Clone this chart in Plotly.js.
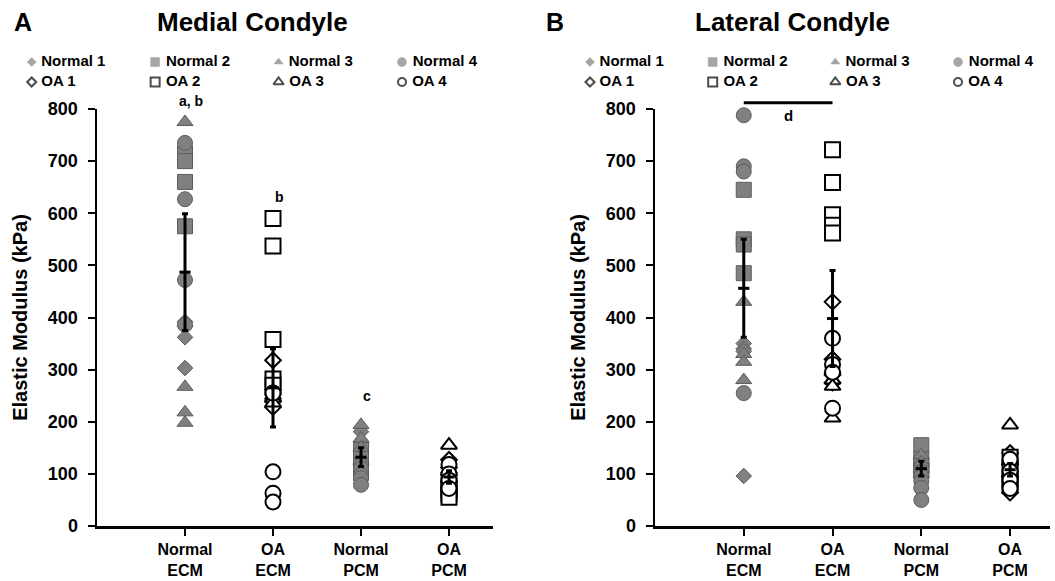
<!DOCTYPE html>
<html><head><meta charset="utf-8">
<script src="https://cdn.plot.ly/plotly-3.0.1.min.js"></script>
<style>body{margin:0;background:#fff}#chart{width:1055px;height:581px}</style>
</head><body><div id="chart"></div>
<script>
// ---------- data ----------
const categories = ['Normal<br>ECM', 'OA<br>ECM', 'Normal<br>PCM', 'OA<br>PCM'];
const catPos = [1, 2, 3, 4];
const groupNames = ['Normal 1', 'Normal 2', 'Normal 3', 'Normal 4', 'OA 1', 'OA 2', 'OA 3', 'OA 4'];
const groupShapes = ['diamond', 'square', 'triangle-up', 'circle', 'diamond', 'square', 'triangle-up', 'circle'];

// Medial condyle (kPa)
const medECM_N1 = [392, 383, 362, 303];
const medECM_N2 = [715, 700, 660, 575];
const medECM_N3 = [775, 267, 218, 198];
const medECM_N4 = [735, 627, 472, 386];
const medECM_OA1 = [318, 262, 240, 228];
const medECM_OA2 = [590, 537, 358, 282, 270];
const medECM_OA3 = [258, 250, 244, 236];
const medECM_OA4 = [255, 104, 63, 46];
const medPCM_N1 = [181, 160, 138, 120];
const medPCM_N2 = [146, 130, 115, 102];
const medPCM_N3 = [194, 168, 150, 125];
const medPCM_N4 = [110, 98, 92, 79];
const medPCM_OA1 = [127, 112, 98, 85];
const medPCM_OA2 = [78, 70, 62, 55];
const medPCM_OA3 = [155, 108, 92, 80];
const medPCM_OA4 = [118, 100, 88, 72];
const medMean = [487, 265, 132, 94];
const medErr = [112, 75, 18, 12];
const medLetters = ['a, b', 'b', 'c'];
const medLetterCat = [1, 2, 3];
const medLetterY = [815, 632, 249];

// Lateral condyle (kPa)
const latECM_N1 = [350, 340, 335, 96];
const latECM_N2 = [645, 550, 540, 485];
const latECM_N3 = [430, 330, 315, 280];
const latECM_N4 = [788, 690, 680, 255];
const latECM_OA1 = [430, 320, 290, 275];
const latECM_OA2 = [722, 659, 597, 577, 562];
const latECM_OA3 = [300, 280, 268, 207];
const latECM_OA4 = [360, 310, 295, 226];
const latPCM_N1 = [120, 112, 104, 98];
const latPCM_N2 = [155, 128, 115, 106];
const latPCM_N3 = [136, 122, 110, 100];
const latPCM_N4 = [95, 86, 73, 50];
const latPCM_OA1 = [140, 118, 95, 64];
const latPCM_OA2 = [132, 110, 92, 78];
const latPCM_OA3 = [194, 125, 100, 82];
const latPCM_OA4 = [128, 105, 88, 72];
const latMean = [456, 398, 110, 108];
const latErr = [94, 92, 14, 12];
const latSigFrom = 1, latSigTo = 2, latSigY = 812;
const latSigLetter = 'd', latSigLetterY = 788;

// ---------- styling ----------
const FONT = 'Liberation Sans, Arial, sans-serif';
const GRAY = '#808080', GRAY_EDGE = '#5c5c5c';
const Y_MAX = 800;
const bigSize = {'diamond': 12, 'square': 15, 'triangle-up': 14, 'circle': 15};
const legNormalSize = {'diamond': 7, 'square': 9, 'triangle-up': 8, 'circle': 9};
const legOASize = {'diamond': 7, 'square': 9, 'triangle-up': 9, 'circle': 8};

function groupTraces(ecmLists, pcmLists, xa, ya) {
  const traces = [];
  for (let g = 0; g < 8; g++) {
    const isOA = g >= 4;
    const ecm = ecmLists[g], pcm = pcmLists[g];
    const xE = isOA ? catPos[1] : catPos[0];
    const xP = isOA ? catPos[3] : catPos[2];
    const sym = groupShapes[g];
    traces.push({
      type: 'scatter', mode: 'markers', xaxis: xa, yaxis: ya, cliponaxis: false,
      name: groupNames[g], showlegend: false, hoverinfo: 'y',
      x: ecm.map(() => xE).concat(pcm.map(() => xP)),
      y: ecm.concat(pcm),
      marker: {
        symbol: sym, size: bigSize[sym],
        color: isOA ? '#ffffff' : GRAY,
        line: {color: isOA ? '#000000' : GRAY_EDGE, width: isOA ? 2 : 1}
      }
    });
  }
  return traces;
}

function meanTrace(means, errs, xa, ya) {
  return {
    type: 'scatter', mode: 'markers', xaxis: xa, yaxis: ya, cliponaxis: false,
    showlegend: false, x: catPos, y: means,
    marker: {symbol: 'line-ew', size: 8, line: {color: '#000', width: 3}},
    error_y: {type: 'data', array: errs, visible: true, color: '#000', thickness: 3, width: 3}
  };
}

function legendTrace(xa, ya) {
  return {
    type: 'scatter', mode: 'markers+text', xaxis: xa, yaxis: ya, cliponaxis: false,
    showlegend: false, hoverinfo: 'skip',
    x: [0, 1, 2, 3, 0, 1, 2, 3], y: [0, 0, 0, 0, 1, 1, 1, 1],
    text: groupNames.map(t => ' ' + t), textposition: 'middle right',
    textfont: {family: FONT, size: 15, color: '#000', weight: 'bold'},
    marker: {
      symbol: groupShapes,
      size: groupShapes.map((s, i) => i < 4 ? legNormalSize[s] : legOASize[s]),
      color: groupShapes.map((s, i) => i < 4 ? GRAY : '#ffffff'),
      line: {color: groupShapes.map((s, i) => i < 4 ? GRAY : '#000'), width: groupShapes.map((s, i) => i < 4 ? 0.5 : 2)}
    }
  };
}

const data = [].concat(
  groupTraces([medECM_N1, medECM_N2, medECM_N3, medECM_N4, medECM_OA1, medECM_OA2, medECM_OA3, medECM_OA4],
              [medPCM_N1, medPCM_N2, medPCM_N3, medPCM_N4, medPCM_OA1, medPCM_OA2, medPCM_OA3, medPCM_OA4], 'x', 'y'),
  [meanTrace(medMean, medErr, 'x', 'y')],
  groupTraces([latECM_N1, latECM_N2, latECM_N3, latECM_N4, latECM_OA1, latECM_OA2, latECM_OA3, latECM_OA4],
              [latPCM_N1, latPCM_N2, latPCM_N3, latPCM_N4, latPCM_OA1, latPCM_OA2, latPCM_OA3, latPCM_OA4], 'x2', 'y2'),
  [meanTrace(latMean, latErr, 'x2', 'y2')],
  [legendTrace('x3', 'y3'), legendTrace('x4', 'y4')]
);

// ---------- layout ----------
const W = 1055, H = 581;
const yDomain = [55 / H, 472 / H];
const boldFont = (size) => ({family: FONT, size: size, color: '#000', weight: 'bold'});

function yAxis(anchor) {
  return {
    anchor: anchor, domain: yDomain, range: [0, Y_MAX], tick0: 0, dtick: 100,
    showline: true, linecolor: '#000', linewidth: 2.5, mirror: false,
    ticks: 'outside', ticklen: 7, tickwidth: 2, tickcolor: '#000',
    showgrid: false, zeroline: false, automargin: false, ticklabelstandoff: 6,
    tickfont: boldFont(18),
    title: {text: 'Elastic Modulus (kPa)', font: boldFont(20), standoff: 15}
  };
}
function xAxis(anchor, domain, range) {
  return {
    anchor: anchor, domain: domain, range: range,
    tickmode: 'array', tickvals: catPos, ticktext: categories,
    showline: true, linecolor: '#000', linewidth: 2.5,
    ticks: 'outside', ticklen: 7, tickwidth: 2, tickcolor: '#000',
    showgrid: false, zeroline: false, automargin: false,
    tickfont: boldFont(16)
  };
}
function legAxisX(anchor, domain) {
  return {anchor: anchor, domain: domain, range: [0, 3], visible: false, fixedrange: true};
}
function legAxisY(anchor) {
  return {anchor: anchor, domain: [(H - 82) / H, (H - 62) / H], range: [1, 0], visible: false, fixedrange: true};
}

const annotations = [
  {xref: 'paper', yref: 'paper', x: 12 / W, y: (H - 22) / H, xanchor: 'left', yanchor: 'middle', text: 'A', showarrow: false, font: boldFont(25)},
  {xref: 'paper', yref: 'paper', x: 252 / W, y: (H - 22) / H, xanchor: 'center', yanchor: 'middle', text: 'Medial Condyle', showarrow: false, font: boldFont(26)},
  {xref: 'paper', yref: 'paper', x: 544 / W, y: (H - 22) / H, xanchor: 'left', yanchor: 'middle', text: 'B', showarrow: false, font: boldFont(25)},
  {xref: 'paper', yref: 'paper', x: 792 / W, y: (H - 22) / H, xanchor: 'center', yanchor: 'middle', text: 'Lateral Condyle', showarrow: false, font: boldFont(26)}
];
medLetters.forEach((t, i) => annotations.push({
  xref: 'x', yref: 'y domain', x: medLetterCat[i], y: medLetterY[i] / Y_MAX, xshift: 6, text: t, showarrow: false,
  font: boldFont(14), xanchor: 'center', yanchor: 'middle'
}));
annotations.push({
  xref: 'x2', yref: 'y2 domain', x: (latSigFrom + latSigTo) / 2, y: latSigLetterY / Y_MAX, text: latSigLetter, showarrow: false,
  font: boldFont(15), xanchor: 'center', yanchor: 'middle'
});

const shapes = [{
  type: 'line', xref: 'x2', yref: 'y2 domain', x0: latSigFrom, x1: latSigTo,
  y0: latSigY / Y_MAX, y1: latSigY / Y_MAX, line: {color: '#000', width: 3}
}];

const layout = {
  width: W, height: H, margin: {l: 0, r: 0, t: 0, b: 0},
  paper_bgcolor: '#fff', plot_bgcolor: 'rgba(0,0,0,0)',
  showlegend: false, font: {family: FONT, color: '#000'},
  xaxis: xAxis('y', [97 / W, 493 / W], [0, 4.5]),
  yaxis: yAxis('x'),
  xaxis2: xAxis('y2', [655 / W, 1050 / W], [0, 4.45]),
  yaxis2: yAxis('x2'),
  xaxis3: legAxisX('y3', [31.7 / W, 402 / W]),
  yaxis3: legAxisY('x3'),
  xaxis4: legAxisX('y4', [590 / W, 958 / W]),
  yaxis4: legAxisY('x4'),
  annotations: annotations, shapes: shapes
};

Plotly.newPlot('chart', data, layout, {displayModeBar: false, staticPlot: true});
</script></body></html>
